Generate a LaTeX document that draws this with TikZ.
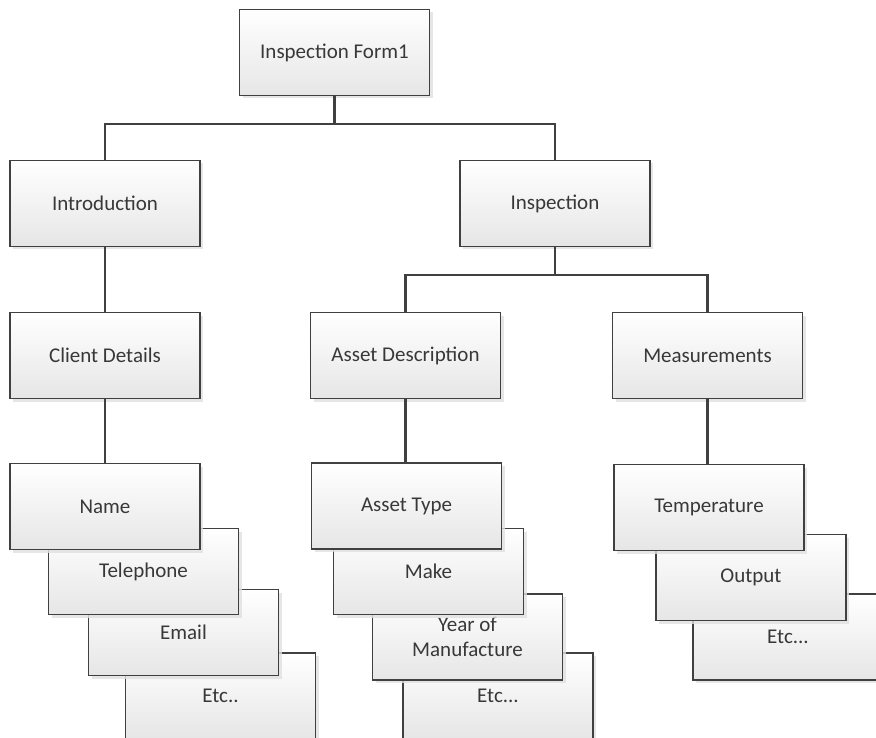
\documentclass[tikz,border=0pt]{standalone}
\usepackage{fontspec}
\setmainfont{Carlito}
\usetikzlibrary{shadows}
\definecolor{txt}{HTML}{383838}
\definecolor{edgec}{HTML}{404040}
\definecolor{boxbot}{HTML}{E6E6E6}
\tikzset{
  box/.style={draw=edgec, line width=1.5pt, minimum width=190pt, minimum height=86pt,
    inner sep=0pt, top color=white, bottom color=boxbot, text=txt, align=center,
    font=\fontsize{21}{25}\selectfont,
    drop shadow={shadow xshift=3pt, shadow yshift=-3pt, fill=black!12, opacity=0.8}},
  link/.style={draw=edgec, line width=2.2pt}
}
\begin{document}
\begin{tikzpicture}[x=1pt,y=-1pt]
\useasboundingbox (0,0) rectangle (876,738);
\fill[white] (0,0) rectangle (876,738);
% levels
\node[box] (top) at (334.5,52.5) {Inspection Form1};
\node[box] (intro) at (105,203.5) {Introduction};
\node[box] (insp) at (555,203.5) {Inspection};
\node[box] (client) at (105,355.5) {Client Details};
\node[box] (adesc) at (405.5,355.5) {Asset Description};
\node[box] (meas) at (707.5,355.5) {Measurements};
% left stack
\node[box] (etc1) at (220.5,696) {Etc..};
\node[box] (email) at (183.5,632.5) {Email};
\node[box] (tel) at (143.5,571.5) {Telephone};
\node[box] (name) at (105,506.5) {Name};
% middle stack
\node[box] (etc2) at (498,696) {Etc...};
\node[box] (year) at (467.5,637) {Year of\\Manufacture};
\node[box] (make) at (428.5,571.5) {Make};
\node[box] (atype) at (406.5,506) {Asset Type};
% right stack
\node[box] (etc3) at (788,637) {Etc...};
\node[box] (output) at (751,577.5) {Output};
\node[box] (temp) at (709,507.5) {Temperature};
% bars
\coordinate (bar1) at (0,124);
\coordinate (bar2) at (0,275);
\draw[link] (top.south) -- (top.south |- bar1) -| (intro.north);
\draw[link] (top.south |- bar1) -| (insp.north);
\draw[link] (intro.south) -- (client.north);
\draw[link] (insp.south) -- (insp.south |- bar2) -| (adesc.north);
\draw[link] (insp.south |- bar2) -| (meas.north);
\draw[link] (client.south) -- (name.north);
\draw[link] (adesc.south) -- (adesc.south |- atype.north);
\draw[link] (meas.south) -- (meas.south |- temp.north);
\end{tikzpicture}
\end{document}
